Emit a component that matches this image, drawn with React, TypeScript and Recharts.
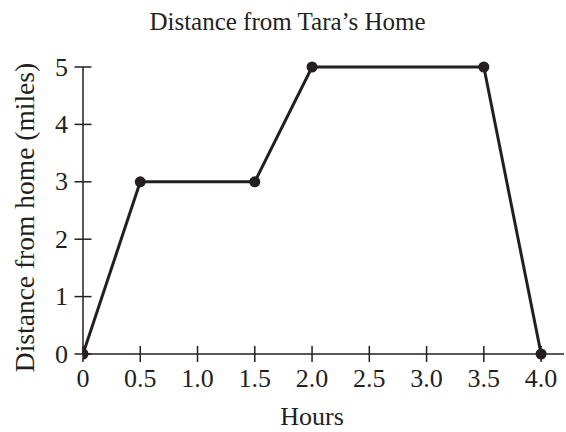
import React from "react";
import { LineChart, Line, XAxis, YAxis } from "recharts";

const hours = [0, 0.5, 1.5, 2.0, 3.5, 4.0];
const miles = [0, 3, 3, 5, 5, 0];
const xTicks = [0, 0.5, 1.0, 1.5, 2.0, 2.5, 3.0, 3.5, 4.0];
const xTickLabels = ["0", "0.5", "1.0", "1.5", "2.0", "2.5", "3.0", "3.5", "4.0"];
const yTicks = [0, 1, 2, 3, 4, 5];
const yTickLabels = ["0", "1", "2", "3", "4", "5"];

const data = hours.map((h, i) => ({ h, d: miles[i] }));

const INK = "#231f20";
const FONT = "'Liberation Serif', 'Times New Roman', serif";

const XTick = (props: any) => {
  const { x, y, payload } = props;
  const idx = xTicks.indexOf(payload.value);
  return (
    <g>
      <line x1={x} x2={x} y1={y - 8} y2={y + 8} stroke={INK} strokeWidth={1.5} />
      <text x={x} y={y + 33} textAnchor="middle" fontFamily={FONT} fontSize={26} fill={INK}>
        {idx >= 0 ? xTickLabels[idx] : payload.value}
      </text>
    </g>
  );
};

const YTick = (props: any) => {
  const { x, y, payload } = props;
  const idx = yTicks.indexOf(payload.value);
  return (
    <g>
      <line x1={x - 8.5} x2={x + 8.5} y1={y} y2={y} stroke={INK} strokeWidth={1.5} />
      <text x={x - 15} y={y + 8.6} textAnchor="end" fontFamily={FONT} fontSize={26} fill={INK}>
        {idx >= 0 ? yTickLabels[idx] : payload.value}
      </text>
    </g>
  );
};

export default function App() {
  return (
    <div style={{ position: "absolute", left: 0, top: 0, width: 566, height: 432, background: "#fff" }}>
      <LineChart
        width={566}
        height={432}
        data={data}
        margin={{ top: 67, right: 2, bottom: 0, left: 0 }}
      >
        <XAxis
          dataKey="h"
          type="number"
          domain={[0, 4.2]}
          ticks={xTicks}
          tickSize={0}
          tickMargin={0}
          tickLine={false}
          tick={<XTick />}
          height={78}
          axisLine={{ stroke: INK, strokeWidth: 1.5 }}
          interval={0}
          allowDataOverflow
        />
        <YAxis
          type="number"
          domain={[0, 5]}
          ticks={yTicks}
          tickSize={0}
          tickMargin={0}
          tickLine={false}
          tick={<YTick />}
          width={83}
          axisLine={{ stroke: INK, strokeWidth: 1.5 }}
          interval={0}
        />
        <Line
          dataKey="d"
          type="linear"
          stroke={INK}
          strokeWidth={3}
          dot={{ r: 5.5, fill: INK, stroke: "none" }}
          isAnimationActive={false}
        />
      </LineChart>
      <svg
        width={566}
        height={432}
        style={{ position: "absolute", left: 0, top: 0, pointerEvents: "none" }}
      >
        <text x={287.5} y={30} textAnchor="middle" fontFamily={FONT} fontSize={25} fill={INK}>
          Distance from Tara’s Home
        </text>
        <text x={312} y={425} textAnchor="middle" fontFamily={FONT} fontSize={26} fill={INK}>
          Hours
        </text>
        <text
          x={33.5}
          y={217.5}
          textAnchor="middle"
          fontFamily={FONT}
          fontSize={27.5}
          fill={INK}
          transform="rotate(-90 33.5 217.5)"
        >
          Distance from home (miles)
        </text>
      </svg>
    </div>
  );
}
